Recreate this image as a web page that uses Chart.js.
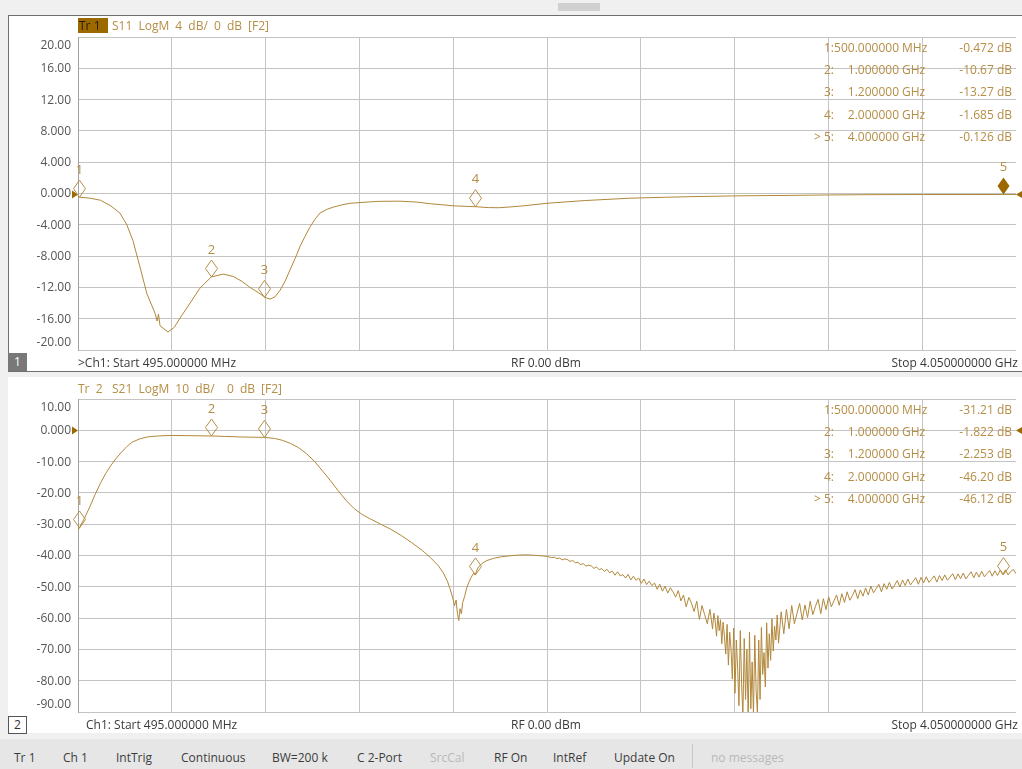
<!DOCTYPE html>
<html>
<head>
<meta charset="utf-8">
<script src="https://cdn.jsdelivr.net/npm/chart.js@4.4.0/dist/chart.umd.min.js"></script>
<style>
html, body { margin: 0; padding: 0; width: 1022px; height: 769px; overflow: hidden; background: #f0f0f0;
  font-family: "Open Sans", sans-serif; font-size: 12px; }
.abs { position: absolute; white-space: pre; line-height: 16px; }
#thumb { left: 558px; top: 3px; width: 42px; height: 8px; background: #d0d0d0; }
#panel1 { left: 8px; top: 15px; width: 1014px; height: 355px; background: #fff; border: 1px solid #6e6e6e; border-right: none; }
#panel2 { left: 8px; top: 377px; width: 1014px; height: 356px; background: #fff; }
#status { left: 0; top: 739px; width: 1022px; height: 30px; background: #e6e6e6; }
#box1 { left: 8px; top: 353px; width: 19px; height: 18px; background: #787878; color: #fff; text-align: center; line-height: 18px; }
#box2 { left: 8px; top: 716px; width: 17px; height: 16px; background: #fff; border: 1px solid #555; color: #333; text-align: center; line-height: 16px; }
#tr1 { left: 78px; top: 18px; width: 29px; height: 15px; background: #9b6900; color: #2a1c00; line-height: 16px; padding-left: 1px; }
.gold { color: #b58d45; word-spacing: 3px; }
.info { color: #3a3a3a; }
.st { color: #3c3c3c; top: 750px; }
.off { color: #b9b9b9; }
#sep { left: 692px; top: 744px; width: 1px; height: 24px; background: #c8c8c8; }
canvas { position: absolute; left: 0; }
</style>
</head>
<body>
<div class="abs" id="thumb"></div>
<div class="abs" id="panel1"></div>
<div class="abs" id="panel2"></div>
<div class="abs" id="status"></div>

<canvas id="c1" width="1022" height="372" style="top:0"></canvas>
<canvas id="c2" width="1022" height="368" style="top:372px"></canvas>

<div class="abs" id="tr1">Tr 1</div>
<div class="abs gold" style="left:112px;top:18px">S11 LogM 4 dB/ 0 dB [F2]</div>
<div class="abs" id="box1">1</div>
<div class="abs info" style="left:78px;top:355px">&gt;Ch1: Start 495.000000 MHz</div>
<div class="abs info" style="left:511px;top:355px">RF 0.00 dBm</div>
<div class="abs info" style="right:4px;top:355px">Stop 4.050000000 GHz</div>

<div class="abs gold" style="left:78px;top:381px">Tr 2</div>
<div class="abs gold" style="left:112px;top:381px">S21 LogM 10 dB/  0 dB [F2]</div>
<div class="abs" id="box2">2</div>
<div class="abs info" style="left:86px;top:717px">Ch1: Start 495.000000 MHz</div>
<div class="abs info" style="left:511px;top:717px">RF 0.00 dBm</div>
<div class="abs info" style="right:4px;top:717px">Stop 4.050000000 GHz</div>

<div class="abs st" style="left:14px">Tr 1</div>
<div class="abs st" style="left:63px">Ch 1</div>
<div class="abs st" style="left:116px">IntTrig</div>
<div class="abs st" style="left:181px">Continuous</div>
<div class="abs st" style="left:272px">BW=200 k</div>
<div class="abs st" style="left:357px">C 2-Port</div>
<div class="abs st off" style="left:430px">SrcCal</div>
<div class="abs st" style="left:494px">RF On</div>
<div class="abs st" style="left:553px">IntRef</div>
<div class="abs st" style="left:614px">Update On</div>
<div class="abs" id="sep"></div>
<div class="abs st off" style="left:711px">no messages</div>

<script>
// sweep grid (MHz): start 495, stop 4050, 10 divisions
const xGrid = [495, 850.5, 1206, 1561.5, 1917, 2272.5, 2628, 2983.5, 3339, 3694.5, 4050];

const s11TickVals = [20, 16, 12, 8, 4, 0, -4, -8, -12, -16, -20];
const s11TickLabels = ['20.00', '16.00', '12.00', '8.000', '4.000', '0.000', '-4.000', '-8.000', '-12.00', '-16.00', '-20.00'];
const s21TickVals = [10, 0, -10, -20, -30, -40, -50, -60, -70, -80, -90];
const s21TickLabels = ['10.00', '0.000', '-10.00', '-20.00', '-30.00', '-40.00', '-50.00', '-60.00', '-70.00', '-80.00', '-90.00'];

// S11 trace
const s11Freq = [495, 500, 540, 580, 620, 654, 680, 703, 730, 756, 787, 795, 800, 806, 836, 860, 882, 920, 957, 1000,
  1045, 1083, 1115, 1147, 1180, 1204, 1223, 1242, 1261, 1280, 1298, 1318, 1336, 1355, 1374, 1393, 1412, 1440, 1462, 1495,
  1526, 1602, 1640, 1715, 1780, 1826, 1920, 2000, 2050, 2090, 2140, 2182, 2276, 2417, 2587, 2720, 2852, 3000, 3194, 3349,
  3500, 3700, 4000, 4050];
const s11Db = [-0.35, -0.47, -0.6, -0.86, -1.6, -2.5, -4.0, -6.0, -9.4, -12.8, -15.3, -16.3, -15.4, -16.9, -17.7, -17.1, -15.9, -14.0, -12.1, -10.67,
  -10.3, -10.6, -11.2, -12.0, -12.7, -13.27, -13.5, -13.2, -12.35, -11.2, -9.8, -8.3, -6.8, -5.5, -4.3, -3.3, -2.5, -2.0, -1.75, -1.45,
  -1.25, -1.07, -1.0, -0.98, -1.1, -1.29, -1.58, -1.685, -1.8, -1.82, -1.7, -1.58, -1.24, -0.9, -0.6, -0.48, -0.38, -0.3, -0.24, -0.18,
  -0.15, -0.13, -0.126, -0.12];

// S21 trace
const s21Freq = [495, 500, 520, 540, 560, 580, 600, 620, 640, 660, 680, 700, 730, 760, 800, 850, 900, 950, 1000, 1050,
  1100, 1150, 1200, 1240, 1270, 1300, 1330, 1360, 1390, 1420, 1450, 1480, 1510, 1540, 1570, 1600, 1640, 1680, 1720, 1760,
  1800, 1830, 1860, 1880, 1895, 1905, 1915, 1922, 1928, 1933, 1938, 1943, 1948, 1953, 1960, 1968, 1976, 1985, 1995, 2000,
  2010, 2025, 2045, 2070, 2100, 2130, 2160, 2190, 2220, 2250, 2275,
  2290, 2300, 2310, 2320, 2330, 2340, 2350, 2360, 2370, 2380,
  2390, 2400, 2410, 2420, 2430, 2440, 2450, 2460, 2470, 2480,
  2490, 2500, 2510, 2520, 2530, 2540, 2550, 2560, 2570, 2580,
  2590, 2600, 2610, 2620, 2630, 2640, 2650, 2660, 2670, 2680,
  2690, 2700, 2710, 2720, 2730, 2740, 2750, 2760, 2770, 2780,
  2790, 2800, 2810, 2820, 2830, 2840, 2850, 2860, 2870, 2880,
  2890,
  2900, 2905, 2910, 2915, 2920, 2925, 2930, 2935, 2940, 2945,
  2950, 2955, 2960, 2965, 2970, 2975, 2980, 2985, 2990, 2995,
  3000, 3005, 3010, 3015, 3020, 3025, 3030, 3035, 3040, 3045,
  3050, 3055, 3060, 3065, 3070, 3075, 3080, 3085, 3090, 3095,
  3100, 3105, 3110, 3115, 3120, 3125, 3130, 3135, 3140, 3145,
  3150,
  3160, 3170, 3180, 3190, 3200, 3210, 3220, 3230, 3240, 3250,
  3260, 3270, 3280, 3290, 3300, 3310, 3320, 3330, 3340, 3350,
  3360, 3370, 3380, 3390, 3400, 3410, 3420, 3430, 3440, 3450,
  3460, 3470, 3480, 3490, 3500, 3510, 3520, 3530, 3540, 3550,
  3560, 3570, 3580, 3590, 3600, 3610, 3620, 3630, 3640, 3650,
  3660, 3670, 3680, 3690, 3700, 3710, 3720, 3730, 3740, 3750,
  3760, 3770, 3780, 3790, 3800, 3810, 3820, 3830, 3840, 3850,
  3860, 3870, 3880, 3890, 3900, 3910, 3920, 3930, 3940, 3950,
  3960, 3970, 3980, 3990, 4000, 4010, 4020, 4030, 4040, 4050];
const s21Db = [-31.9, -31.21, -28.0, -24.4, -20.5, -16.9, -13.8, -11.2, -8.9, -7.0, -5.2, -3.8, -2.7, -2.1, -1.8, -1.65, -1.7, -1.75, -1.822, -1.95,
  -2.1, -2.2, -2.253, -2.6, -3.2, -4.2, -5.5, -7.4, -9.8, -12.8, -15.9, -19.2, -22.3, -24.9, -26.8, -28.2, -29.9, -31.6, -33.6, -35.9,
  -38.4, -40.6, -43.2, -45.6, -48.2, -50.6, -53.5, -56.0, -54.2, -58.5, -60.8, -57.0, -58.6, -55.0, -53.2, -50.4, -48.6, -47.0, -45.6, -46.2,
  -44.0, -42.6, -41.6, -40.9, -40.4, -40.1, -39.9, -39.8, -39.9, -40.1, -40.3,
  -40.7, -40.5, -41.0, -40.8, -41.4, -41.1, -41.3, -41.9, -41.6, -42.3,
  -42.2, -42.9, -42.6, -43.4, -43.1, -43.3, -44.1, -43.7, -44.5, -44.2,
  -45.1, -44.4, -45.5, -45.0, -46.3, -45.2, -46.5, -46.1, -47.2, -46.0,
  -47.8, -46.6, -47.9, -47.2, -48.9, -47.5, -49.3, -48.2, -49.6, -48.8,
  -50.8, -49.2, -51.4, -49.8, -52.0, -50.3, -51.6, -53.3, -51.2, -54.5,
  -52.6, -56.4, -53.4, -55.2, -57.9, -54.6, -60.4, -56.0, -58.9, -61.8,
  -57.2,
  -63.5, -58.4, -61.0, -65.8, -59.2, -64.0, -60.5, -68.2, -61.3, -66.0,
  -71.5, -62.0, -75.0, -64.5, -70.0, -79.5, -63.2, -84.0, -67.0, -76.0,
  -88.0, -64.0, -81.0, -91.0, -66.5, -86.0, -70.0, -92.0, -64.5, -89.0,
  -74.0, -91.0, -65.5, -83.0, -90.5, -67.0, -86.0, -63.0, -78.0, -71.0,
  -82.0, -61.5, -76.0, -65.0, -73.5, -60.2, -70.5, -62.5, -67.0, -59.0,
  -68.0,
  -58.0, -65.0, -57.2, -63.4, -56.0, -61.8, -58.5, -55.3, -60.6, -55.8,
  -59.8, -54.6, -58.9, -56.2, -54.0, -58.6, -53.8, -57.3, -53.2, -56.4,
  -54.5, -52.6, -55.9, -52.2, -55.0, -51.6, -54.3, -52.8, -50.9, -53.8,
  -51.0, -53.0, -50.4, -52.6, -49.8, -51.9, -50.6, -49.2, -51.6, -49.0,
  -50.8, -48.6, -50.7, -49.5, -48.0, -50.1, -47.8, -49.6, -47.5, -49.4,
  -48.3, -47.1, -49.2, -47.0, -48.7, -46.8, -48.6, -47.6, -46.5, -48.5,
  -46.4, -48.0, -46.2, -47.9, -46.9, -45.8, -47.7, -45.9, -47.4, -45.6,
  -47.5, -46.3, -45.2, -47.1, -45.3, -46.9, -45.0, -46.8, -45.8, -44.8,
  -46.6, -44.9, -46.4, -44.7, -46.12, -44.6, -46.2, -45.1, -44.5, -45.8];

// markers
const markerFreq = [500, 1000, 1200, 2000, 4000];
const markerFreqNum = ['500.000000', '1.000000', '1.200000', '2.000000', '4.000000'];
const markerFreqUnit = ['MHz', 'GHz', 'GHz', 'GHz', 'GHz'];
const s11MarkerDb = [-0.472, -10.67, -13.27, -1.685, -0.126];
const s21MarkerDb = [-31.21, -1.822, -2.253, -46.20, -46.12];
const activeMarker = 4;

const GOLD = '#b58d45', DARK_GOLD = '#9b6900', TRACE = '#b1873a';

function fmtDb(v) {
  return (Math.abs(v) < 10 ? v.toFixed(3) : v.toFixed(2)) + ' dB';
}

function overlay(tickVals, tickLabels, markerDb, isActiveTrace) {
  return {
    id: 'vnaOverlay',
    afterDraw(chart) {
      const ctx = chart.ctx, xs = chart.scales.x, ys = chart.scales.y, a = chart.chartArea;
      ctx.save();
      ctx.font = '12px "Open Sans"';
      ctx.textBaseline = 'middle';

      // y tick labels, edge labels kept inside the grid
      ctx.fillStyle = '#555555';
      ctx.textAlign = 'right';
      tickVals.forEach((v, i) => {
        let y = ys.getPixelForValue(v);
        y = Math.min(Math.max(y, a.top + 8), a.bottom - 8);
        ctx.fillText(tickLabels[i], 71, y + 0.5);
      });

      // reference level arrows
      const y0 = Math.round(ys.getPixelForValue(0)) + 0.5;
      ctx.fillStyle = DARK_GOLD;
      ctx.beginPath();
      ctx.moveTo(72, y0 - 4); ctx.lineTo(78, y0); ctx.lineTo(72, y0 + 4); ctx.closePath(); ctx.fill();
      ctx.beginPath();
      ctx.moveTo(1023, y0 - 4); ctx.lineTo(1016, y0); ctx.lineTo(1023, y0 + 4); ctx.closePath(); ctx.fill();

      // marker diamonds and numbers
      markerFreq.forEach((f, i) => {
        const px = Math.round(xs.getPixelForValue(f)) + 0.5;
        const py = ys.getPixelForValue(markerDb[i]);
        ctx.beginPath();
        ctx.moveTo(px, py); ctx.lineTo(px + 6, py - 8.5); ctx.lineTo(px, py - 17); ctx.lineTo(px - 6, py - 8.5); ctx.closePath();
        if (isActiveTrace && i === activeMarker) {
          ctx.fillStyle = DARK_GOLD; ctx.fill();
        } else {
          ctx.strokeStyle = GOLD; ctx.lineWidth = 1; ctx.stroke();
        }
        ctx.fillStyle = GOLD;
        ctx.textAlign = 'center';
        ctx.font = '13px "Open Sans"';
        ctx.fillText(String(i + 1), px, py - 27);
      });

      // marker table
      ctx.font = '12px "Open Sans"';
      ctx.fillStyle = GOLD;
      markerFreq.forEach((f, i) => {
        const y = a.top + 11.5 + i * 22.2;
        ctx.textAlign = 'right';
        ctx.fillText((i === activeMarker ? '> ' : '') + (i + 1) + ':', 834, y);
        ctx.fillText(markerFreqNum[i], 899, y);
        ctx.textAlign = 'left';
        ctx.fillText(markerFreqUnit[i], 902, y);
        ctx.textAlign = 'right';
        ctx.fillText(fmtDb(markerDb[i]), 1012, y);
      });
      ctx.restore();
    }
  };
}

function makeChart(id, freq, db, yMin, yMax, tickVals, tickLabels, markerDb, pad, active) {
  return new Chart(document.getElementById(id), {
    type: 'line',
    data: {
      datasets: [{
        data: freq.map((f, i) => ({ x: f, y: db[i] })),
        borderColor: TRACE,
        borderWidth: 1,
        pointRadius: 0,
        tension: 0
      }]
    },
    options: {
      responsive: false,
      animation: false,
      events: [],
      layout: { padding: pad, autoPadding: false },
      plugins: { legend: { display: false }, tooltip: { enabled: false } },
      scales: {
        x: {
          type: 'linear', min: 495, max: 4050,
          afterBuildTicks: s => { s.ticks = xGrid.map(v => ({ value: v })); },
          ticks: { display: false },
          grid: { color: c => (c.index === xGrid.length - 1 ? 'rgba(0,0,0,0)' : '#c4c4c4'), drawTicks: false },
          border: { display: false }
        },
        y: {
          min: yMin, max: yMax,
          afterBuildTicks: s => { s.ticks = tickVals.map(v => ({ value: v })); },
          ticks: { display: false },
          grid: { color: '#c4c4c4', drawTicks: false },
          border: { display: true, color: '#a2a2a2' }
        }
      }
    },
    plugins: [overlay(tickVals, tickLabels, markerDb, active)]
  });
}

function draw() {
  makeChart('c1', s11Freq, s11Db, -20, 20, s11TickVals, s11TickLabels, s11MarkerDb,
    { left: 78, top: 37, right: 6, bottom: 22 }, true);
  makeChart('c2', s21Freq, s21Db, -90, 10, s21TickVals, s21TickLabels, s21MarkerDb,
    { left: 78, top: 27, right: 6, bottom: 28 }, false);
}

if (document.fonts && document.fonts.load) {
  document.fonts.load('12px "Open Sans"').then(draw, draw);
} else {
  draw();
}
</script>
</body>
</html>
